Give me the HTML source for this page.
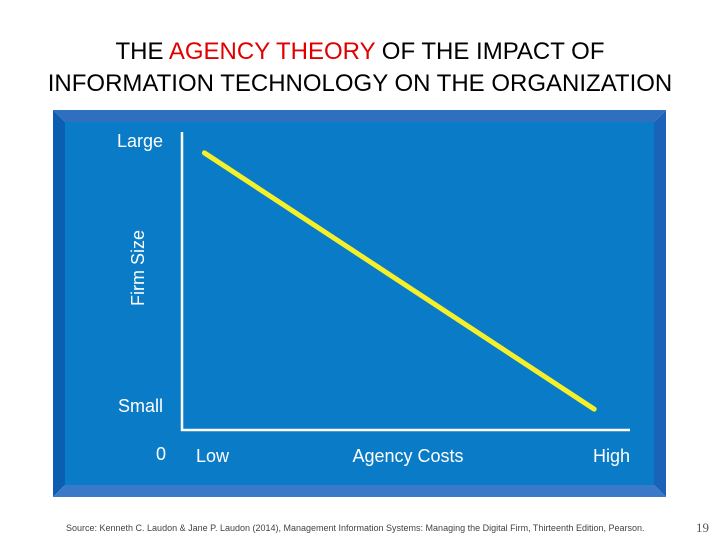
<!DOCTYPE html>
<html><head><meta charset="utf-8"><style>
body{margin:0;width:720px;height:540px;background:#fff;font-family:"Liberation Sans",sans-serif;overflow:hidden;position:relative}
.t{position:absolute;left:0;width:720px;text-align:center;font-size:24px;color:#000}
</style></head><body>
<div class="t" style="top:36px;line-height:32px">THE <span style="color:#e00000">AGENCY THEORY</span> OF THE IMPACT OF<br>INFORMATION TECHNOLOGY ON THE ORGANIZATION</div>
<svg width="720" height="540" style="position:absolute;left:0;top:0">
<polygon points="53,110 666,110 654,122 65,122" fill="#2f6fc0"/>
<polygon points="53,110 65,122 65,485 53,497" fill="#0b5eb0"/>
<polygon points="666,110 666,497 654,485 654,122" fill="#1b63b8"/>
<polygon points="53,497 666,497 654,485 65,485" fill="#3a78c8"/>
<rect x="65" y="122" width="589" height="363" fill="#0a7bc6"/>
<g id="axes" stroke="#fff" stroke-width="2.5">
<line x1="182" y1="132" x2="182" y2="431"/>
<line x1="181" y1="430" x2="630" y2="430"/>
</g>
<g fill="#fff" font-size="18" font-family="Liberation Sans,sans-serif">
<text x="163" y="147" text-anchor="end">Large</text>
<text x="163" y="412" text-anchor="end">Small</text>
<text x="166" y="460" text-anchor="end">0</text>
<text x="196" y="462">Low</text>
<text x="408" y="462" text-anchor="middle">Agency Costs</text>
<text x="630" y="462" text-anchor="end">High</text>
<text transform="translate(144,268) rotate(-90)" text-anchor="middle">Firm Size</text>
</g>
<g id="series"></g>
</svg>
<div style="position:absolute;left:66px;top:523px;font-size:9px;color:#444">Source: Kenneth C. Laudon &amp; Jane P. Laudon (2014), Management Information Systems: Managing the Digital Firm, Thirteenth Edition, Pearson.</div>
<div style="position:absolute;left:696px;top:520px;font-size:13px;color:#555;font-family:'Liberation Serif',serif">19</div>
<script>
const agencyCosts=[0.05,0.92];
const firmSize=[0.93,0.07];
function xs(v){return 182+v*448;}
function ys(v){return 430-v*298;}
const g=document.getElementById('series');
const pl=document.createElementNS('http://www.w3.org/2000/svg','polyline');
pl.setAttribute('points',agencyCosts.map((a,i)=>xs(a)+','+ys(firmSize[i])).join(' '));
pl.setAttribute('fill','none');pl.setAttribute('stroke','#f5f02a');pl.setAttribute('stroke-width','5');pl.setAttribute('stroke-linecap','round');


g.appendChild(pl);
</script>
</body></html>
